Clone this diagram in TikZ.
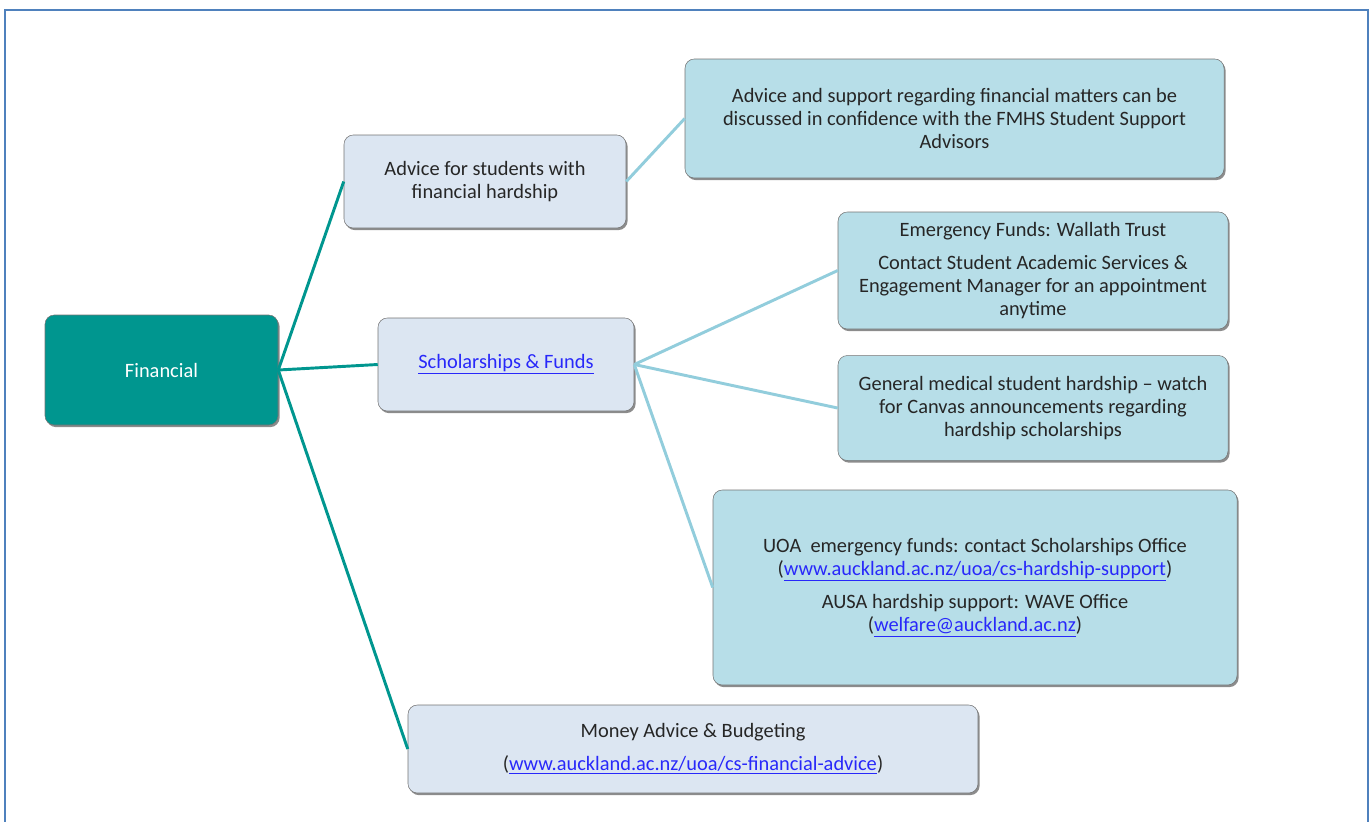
\documentclass[tikz,border=0pt]{standalone}
\usepackage{fontspec}
\setmainfont{Carlito}
\usepackage{tikz}
\usetikzlibrary{positioning}
\usetikzlibrary{shadows}
\definecolor{tealmain}{RGB}{0,150,143}
\definecolor{paleblue}{RGB}{220,230,242}
\definecolor{aquabox}{RGB}{183,222,232}
\definecolor{aqualine}{RGB}{146,205,220}
\definecolor{linkblue}{RGB}{40,40,250}
\definecolor{framecol}{RGB}{79,129,189}
\definecolor{txtgray}{RGB}{38,38,38}
\tikzstyle{box} = [draw=black!55,thin,rounded corners=7pt,align=center,text=txtgray,
  font=\fontsize{15.3}{17.25}\selectfont,
  drop shadow={shadow xshift=1.2pt,shadow yshift=-1.6pt,opacity=0.45,fill=black}]
\tikzstyle{topic} = [box,fill=paleblue]
\tikzstyle{detail} = [box,fill=aquabox]
\tikzstyle{mainline} = [tealmain,line width=2.2pt]
\tikzstyle{subline} = [aqualine,line width=2.2pt]
\newcommand{\weblink}[1]{\textcolor{linkblue}{\underline{#1}}}

\begin{document}
\begin{tikzpicture}[x=0.75pt,y=-0.75pt]
						\useasboundingbox (0,0) rectangle (1370,821);
						\draw[framecol,line width=1.1pt] (5,840) -- (5,10) -- (1368,10) -- (1368,840);

						%Nodes
						\node [box,fill=tealmain,text=white,minimum width=174.75pt,minimum height=82.5pt] (fin) at (161.5,370) {Financial};
						\node [topic,minimum width=211.5pt,minimum height=69.75pt] (hardship) at (485,181.5) {Advice for students with\\financial hardship};
						\node [topic,minimum width=192pt,minimum height=69.75pt] (schol) at (506,364.5) {\weblink{Scholarships \& Funds}};
						\node [topic,minimum width=427.5pt,minimum height=66pt] (money) at (693,749) {Money Advice \& Budgeting\\[7.5pt](\weblink{www.auckland.ac.nz/uoa/cs-financial-advice})};

						\node [detail,minimum width=404.25pt,minimum height=89.25pt] (support) at (954.5,118.5) {Advice and support regarding financial matters can be\\discussed in confidence with the FMHS Student Support\\Advisors};
						\node [detail,minimum width=292.5pt,minimum height=87.75pt] (emerg) at (1033,270.5) {Emergency Funds: Wallath Trust\\[7.5pt]Contact Student Academic Services \&\\Engagement Manager for an appointment\\anytime};
						\node [detail,minimum width=292.5pt,minimum height=78.75pt,below=19.5pt of emerg] (general) {General medical student hardship -- watch\\for Canvas announcements regarding\\hardship scholarships};
						\node [detail,minimum width=393pt,minimum height=146.25pt] (uoa) at (975,587.5) {UOA\ \ emergency funds: contact Scholarships Office\\(\weblink{www.auckland.ac.nz/uoa/cs-hardship-support})\\[7.5pt]AUSA hardship support: WAVE Office\\(\weblink{welfare@auckland.ac.nz})};

						%Lines
						\draw[mainline] (fin.east) -- (hardship.west);
						\draw[mainline] (fin.east) -- (schol.west);
						\draw[mainline] (fin.east) -- (money.west);
						\draw[subline] (hardship.east) -- (support.west);
						\draw[subline] (schol.east) -- (emerg.west);
						\draw[subline] (schol.east) -- (general.west);
						\draw[subline] (schol.east) -- (uoa.west);
					\end{tikzpicture}
\end{document}
